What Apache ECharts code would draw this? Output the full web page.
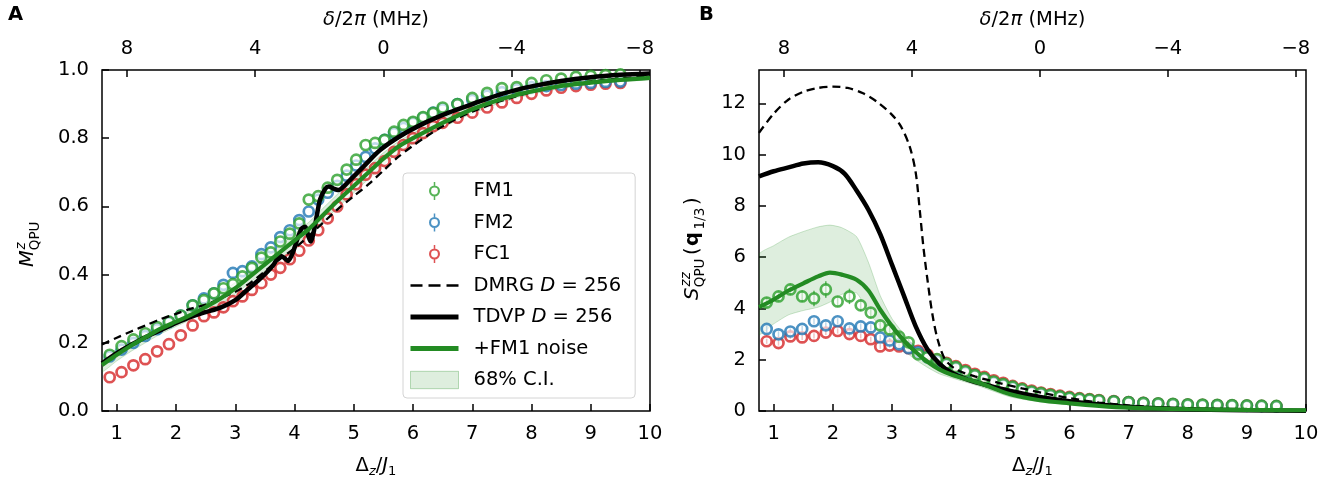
<!DOCTYPE html>
<html><head><meta charset="utf-8">
<script src="https://cdn.jsdelivr.net/npm/echarts@6/dist/echarts.min.js"></script>
<style>html,body{margin:0;padding:0;background:#fff;} #c{width:1338px;height:483px;}</style>
</head><body><div id="c"></div>
<script>
// ---------------- data ----------------
const xTicks = [1,2,3,4,5,6,7,8,9,10];
const deltaTicks = [8,4,0,-4,-8];
const yTicksA = [0,0.2,0.4,0.6,0.8,1.0];
const yTicksB = [0,2,4,6,8,10,12];

// measurement points (Delta_z / J1)
const dz = [0.88,1.08,1.28,1.48,1.68,1.88,2.08,2.28,2.47,2.64,2.8,2.96,3.12,3.28,3.44,3.6,3.76,3.92,4.08,4.24,4.4,4.56,4.72,4.88,5.04,5.2,5.36,5.52,5.68,5.84,6.0,6.17,6.34,6.5,6.75,7.0,7.25,7.5,7.75,8.0,8.25,8.5,8.75,9.0,9.25,9.5];

// Panel A: magnetization
const fm1A = [0.165,0.19,0.21,0.228,0.246,0.262,0.28,0.31,0.325,0.345,0.36,0.372,0.395,0.42,0.45,0.465,0.497,0.52,0.55,0.62,0.63,0.655,0.678,0.708,0.737,0.78,0.786,0.795,0.819,0.839,0.848,0.862,0.874,0.89,0.9,0.918,0.933,0.947,0.95,0.962,0.97,0.975,0.98,0.983,0.985,0.987];
const fm2A = [0.16,0.18,0.2,0.22,0.24,0.26,0.28,0.31,0.33,0.345,0.37,0.405,0.41,0.424,0.46,0.48,0.51,0.53,0.56,0.585,0.62,0.64,0.66,0.69,0.72,0.745,0.77,0.795,0.815,0.83,0.845,0.86,0.875,0.885,0.9,0.912,0.925,0.935,0.943,0.95,0.953,0.956,0.96,0.962,0.965,0.966];
const fc1A = [0.099,0.114,0.134,0.152,0.175,0.196,0.222,0.251,0.278,0.289,0.304,0.322,0.336,0.355,0.375,0.4,0.42,0.445,0.47,0.5,0.53,0.565,0.6,0.635,0.665,0.693,0.712,0.733,0.76,0.78,0.8,0.815,0.835,0.845,0.86,0.875,0.89,0.905,0.918,0.93,0.94,0.948,0.953,0.957,0.96,0.962];

const dmrgA_x = [0.75,1.0,1.25,1.5,1.75,2.0,2.25,2.5,2.75,3.0,3.25,3.5,3.75,4.0,4.25,4.5,4.75,5.0,5.25,5.5,5.75,6.0,6.25,6.5,6.75,7.0,7.5,8.0,8.5,9.0,9.5,10.0];
const dmrgA_y = [0.195,0.215,0.234,0.252,0.27,0.285,0.3,0.312,0.33,0.35,0.375,0.41,0.445,0.477,0.515,0.555,0.595,0.63,0.665,0.705,0.745,0.778,0.808,0.835,0.858,0.878,0.91,0.935,0.953,0.966,0.975,0.982];

const tdvpA_x = [0.75,1.0,1.25,1.5,1.75,2.0,2.25,2.5,2.75,3.0,3.2,3.4,3.55,3.65,3.75,3.82,3.89,3.96,4.05,4.12,4.18,4.23,4.27,4.33,4.43,4.52,4.58,4.66,4.74,4.84,4.94,5.16,5.45,5.8,6.2,6.6,7.0,7.5,8.0,8.5,9.0,9.5,10.0];
const tdvpA_y = [0.14,0.17,0.195,0.218,0.238,0.258,0.276,0.29,0.303,0.325,0.355,0.385,0.41,0.43,0.455,0.45,0.44,0.46,0.505,0.535,0.54,0.515,0.497,0.53,0.62,0.652,0.658,0.652,0.648,0.66,0.678,0.716,0.766,0.808,0.845,0.875,0.9,0.93,0.952,0.968,0.979,0.986,0.99];

const noiseA_x = [0.75,1.0,1.25,1.5,1.75,2.0,2.25,2.5,2.75,3.0,3.25,3.5,3.75,4.0,4.25,4.5,4.75,5.0,5.25,5.5,5.75,6.0,6.5,7.0,7.5,8.0,8.5,9.0,9.5,10.0];
const noiseA_y = [0.135,0.165,0.193,0.218,0.242,0.262,0.282,0.305,0.33,0.36,0.395,0.43,0.465,0.5,0.535,0.578,0.62,0.66,0.7,0.74,0.775,0.8,0.845,0.885,0.915,0.937,0.953,0.963,0.971,0.977];
const ciA_lo = [0.115,0.147,0.176,0.202,0.227,0.248,0.268,0.29,0.314,0.343,0.377,0.411,0.445,0.48,0.515,0.557,0.6,0.64,0.681,0.722,0.758,0.784,0.831,0.873,0.905,0.929,0.946,0.957,0.966,0.972];
const ciA_hi = [0.152,0.182,0.209,0.233,0.256,0.276,0.296,0.32,0.346,0.377,0.413,0.449,0.485,0.52,0.555,0.598,0.64,0.68,0.718,0.757,0.79,0.815,0.858,0.896,0.924,0.945,0.96,0.969,0.976,0.982];

// Panel B: structure factor
const fm1B = [4.23,4.47,4.74,4.47,4.39,4.74,4.27,4.47,4.12,3.84,3.34,3.18,2.9,2.68,2.21,2.1,2.02,1.85,1.71,1.55,1.4,1.28,1.15,1.05,0.95,0.85,0.76,0.7,0.63,0.57,0.52,0.48,0.45,0.42,0.38,0.35,0.32,0.3,0.28,0.26,0.25,0.24,0.23,0.22,0.21,0.2];
const fm1B_err = [0.2,0.2,0.22,0.22,0.3,0.32,0.2,0.3,0.22,0.2,0.18,0.15,0.15,0.12,0.12,0.1,0.1,0.1,0.08,0.08,0.08,0.06,0.06,0.06,0.05,0.05,0.05,0.04,0.04,0.04,0.04,0.03,0.03,0.03,0.03,0.03,0.02,0.02,0.02,0.02,0.02,0.02,0.02,0.02,0.02,0.02];
const fm2B = [3.2,2.99,3.1,3.2,3.5,3.34,3.5,3.22,3.3,3.26,2.87,2.75,2.6,2.45,2.29,2.1,1.95,1.82,1.68,1.52,1.38,1.25,1.12,1.02,0.92,0.82,0.74,0.67,0.6,0.55,0.5,0.46,0.43,0.4,0.37,0.34,0.31,0.28,0.26,0.24,0.23,0.22,0.21,0.2,0.19,0.18];
const fm2B_err = [0.12,0.12,0.12,0.12,0.12,0.12,0.12,0.12,0.12,0.12,0.1,0.1,0.1,0.1,0.1,0.08,0.08,0.08,0.07,0.07,0.06,0.06,0.05,0.05,0.05,0.04,0.04,0.04,0.04,0.03,0.03,0.03,0.03,0.03,0.02,0.02,0.02,0.02,0.02,0.02,0.02,0.02,0.02,0.02,0.02,0.02];
const fc1B = [2.72,2.65,2.91,2.87,2.93,3.06,3.12,3.0,2.93,2.8,2.52,2.55,2.52,2.45,2.35,2.2,2.0,1.88,1.75,1.6,1.45,1.33,1.2,1.1,0.98,0.88,0.8,0.72,0.66,0.6,0.55,0.5,0.46,0.43,0.39,0.35,0.32,0.29,0.27,0.25,0.24,0.23,0.22,0.21,0.2,0.19];
const fc1B_err = [0.1,0.1,0.1,0.1,0.1,0.1,0.1,0.1,0.1,0.1,0.09,0.09,0.09,0.09,0.08,0.08,0.08,0.07,0.07,0.06,0.06,0.06,0.05,0.05,0.05,0.04,0.04,0.04,0.04,0.03,0.03,0.03,0.03,0.03,0.02,0.02,0.02,0.02,0.02,0.02,0.02,0.02,0.02,0.02,0.02,0.02];

const dmrgB_x = [0.75,1.0,1.25,1.5,1.75,2.0,2.25,2.5,2.75,3.0,3.15,3.3,3.4,3.47,3.53,3.6,3.68,3.77,3.9,4.1,4.4,4.8,5.2,5.6,6.0,6.5,7.0,7.5,8.0,9.0,10.0];
const dmrgB_y = [10.85,11.6,12.15,12.45,12.6,12.65,12.6,12.4,12.05,11.55,11.1,10.3,9.3,7.8,6.4,5.1,3.8,2.8,2.0,1.6,1.35,1.1,0.88,0.68,0.5,0.33,0.22,0.14,0.09,0.04,0.02];

const tdvpB_x = [0.75,1.0,1.25,1.5,1.75,2.0,2.2,2.4,2.6,2.8,3.0,3.2,3.4,3.6,3.8,4.0,4.3,4.7,5.0,5.5,6.0,6.5,7.0,8.0,9.0,10.0];
const tdvpB_y = [9.15,9.35,9.5,9.65,9.7,9.55,9.25,8.6,7.85,6.9,5.7,4.5,3.3,2.4,1.85,1.5,1.2,0.95,0.78,0.55,0.38,0.25,0.16,0.07,0.03,0.01];

const noiseB_x = [0.75,1.0,1.25,1.5,1.75,1.95,2.15,2.4,2.6,2.8,3.0,3.2,3.4,3.6,3.8,4.0,4.5,5.0,5.5,6.0,6.5,7.0,8.0,9.0,10.0];
const noiseB_y = [4.05,4.35,4.7,4.98,5.25,5.4,5.32,5.12,4.7,3.95,3.3,2.75,2.3,1.92,1.62,1.42,1.07,0.65,0.42,0.3,0.2,0.13,0.07,0.04,0.03];
const ciB_lo = [3.0,3.4,3.75,3.92,4.05,4.25,4.55,4.6,3.85,3.3,2.68,2.35,2.0,1.7,1.45,1.3,0.95,0.55,0.36,0.26,0.17,0.11,0.05,0.03,0.02];
const ciB_hi = [6.1,6.45,6.78,7.0,7.18,7.25,7.15,6.8,5.8,4.5,3.6,3.0,2.5,2.1,1.8,1.56,1.18,0.75,0.5,0.35,0.24,0.16,0.09,0.05,0.04];

// ---------------- styling ----------------
const FONT = '"DejaVu Sans", sans-serif';
const FS = 19.5;
const C_G = 'rgba(44,160,44,0.8)', C_B = 'rgba(31,119,180,0.8)', C_R = 'rgba(214,39,40,0.8)';
const C_LINE_G = '#238b23';
const pairs = (xs, ys) => xs.map((x, i) => [x, ys[i]]);

function bandSeries(name, xi, yi, xs, lo, hi) {
  return {
    type: 'custom', name: name, xAxisIndex: xi, yAxisIndex: yi, clip: true, silent: true, z: 1,
    data: [[xs[0], lo[0]]],
    renderItem: function (params, api) {
      const pts = [];
      for (let i = 0; i < xs.length; i++) pts.push(api.coord([xs[i], hi[i]]));
      for (let i = xs.length - 1; i >= 0; i--) pts.push(api.coord([xs[i], lo[i]]));
      return { type: 'polygon', shape: { points: pts, smooth: 0.2 },
        style: { fill: 'rgba(34,139,34,0.15)', stroke: 'rgba(34,139,34,0.22)', lineWidth: 1 } };
    }
  };
}
function scatterSeries(name, xi, yi, ys, color) {
  return { type: 'scatter', name: name, xAxisIndex: xi, yAxisIndex: yi, symbol: 'circle', symbolSize: 10,
    itemStyle: { color: 'rgba(255,255,255,0.65)', borderColor: color, borderWidth: 2.7, opacity: 1 },
    data: pairs(dz, ys), z: 2 };
}
function errSeries(xi, yi, ys, es, color) {
  return { type: 'custom', name: 'err', xAxisIndex: xi, yAxisIndex: yi, silent: true, z: 2,
    data: dz.map((x, i) => [x, ys[i], es[i]]), encode: { x: 0, y: 1 },
    renderItem: function (params, api) {
      const x = api.value(0), y = api.value(1), e = api.value(2);
      const p1 = api.coord([x, y - e]), p2 = api.coord([x, y + e]);
      return { type: 'line', shape: { x1: p1[0], y1: p1[1], x2: p2[0], y2: p2[1] },
        style: { stroke: color, lineWidth: 1.5 } };
    } };
}
function lineSeries(name, xi, yi, xs, ys, color, width, dashed) {
  return { type: 'line', name: name, xAxisIndex: xi, yAxisIndex: yi, showSymbol: false, symbol: 'none',
    smooth: 0.3, clip: true, z: 3,
    lineStyle: { color: color, width: width, type: dashed ? [8, 5] : 'solid', cap: 'butt' },
    itemStyle: { color: color },
    data: pairs(xs, ys) };
}

const tickLab = { fontSize: FS, fontFamily: FONT, color: '#000' };
const tickSty = { inside: true, length: 7, lineStyle: { color: '#000', width: 1.5 } };
const noLine = { show: false, onZero: false };
const nameRich = {
  n: { fontSize: FS, fontFamily: FONT, color: '#000', lineHeight: 25 },
  i: { fontSize: FS, fontFamily: FONT, fontStyle: 'italic', color: '#000', lineHeight: 25 },
  sz: { fontSize: 13, fontFamily: FONT, fontStyle: 'italic', color: '#000', lineHeight: 25, verticalAlign: 'bottom' },
  s1: { fontSize: 13, fontFamily: FONT, color: '#000', lineHeight: 25, verticalAlign: 'bottom' }
};
function bottomAxis(g) {
  return { gridIndex: g, type: 'value', position: 'bottom', min: 0.75, max: 10,
    axisLine: noLine, splitLine: { show: false },
    axisTick: Object.assign({ customValues: xTicks }, tickSty),
    axisLabel: Object.assign({ customValues: xTicks, margin: 13 }, tickLab),
    name: '{n|Δ}{sz|z}{n|/}{i|J}{s1|1}', nameLocation: 'middle', nameGap: 42,
    nameTextStyle: { rich: nameRich, fontSize: FS, fontFamily: FONT, color: '#000', lineHeight: 25 } };
}
function topAxis(g) {
  return { gridIndex: g, type: 'value', position: 'top', min: -8.316, max: 8.778, inverse: true,
    axisLine: noLine, splitLine: { show: false },
    axisTick: Object.assign({ customValues: deltaTicks }, tickSty),
    axisLabel: Object.assign({ customValues: deltaTicks, margin: 11,
      formatter: v => (v < 0 ? '\u2212' + Math.abs(v) : String(v)) }, tickLab),
    name: '{i|δ}{n|/2}{i|π}{n| (MHz)}', nameLocation: 'middle', nameGap: 38,
    nameTextStyle: { rich: nameRich, fontSize: FS, fontFamily: FONT, color: '#000', lineHeight: 25 } };
}

const RING = 'path://M5.25,0H6.75V3.6H5.25Z M5.25,14.4H6.75V18H5.25Z M0.5,9A5.5,5.5,0,1,1,11.5,9A5.5,5.5,0,1,1,0.5,9Z M2.6,9A3.4,3.4,0,1,0,9.4,9A3.4,3.4,0,1,0,2.6,9Z';
const DASH = 'path://M0,0H12V2.4H0Z M18,0H30V2.4H18Z M36,0H48V2.4H36Z';
const THICK = 'path://M0,0H48V4.8H0Z';
const RECT = 'path://M0,0H47V17H0Z';

function yName(x0, y0, parts) {
  return { type: 'group', x: x0, y: y0, rotation: Math.PI / 2, silent: true,
    children: parts.map(p => ({ type: 'text', x: p[1], y: p[2],
      style: { text: p[0], font: p[3], fill: '#000', textAlign: 'left', textVerticalAlign: 'middle' } })) };
}
const fMain = FS + 'px "DejaVu Sans"';
const fIt = 'italic ' + FS + 'px "DejaVu Sans"';
const fBold = 'bold ' + FS + 'px "DejaVu Sans"';
const fSub = '13.5px "DejaVu Sans"';
const fSubIt = 'italic 13.5px "DejaVu Sans"';

const option = {
  animation: false,
  backgroundColor: '#fff',
  textStyle: { fontFamily: FONT },
  title: [
    { text: 'A', left: 8, top: 5, padding: 0, textStyle: { fontSize: FS, fontWeight: 'bold', fontFamily: FONT, color: '#000' } },
    { text: 'B', left: 699, top: 5, padding: 0, textStyle: { fontSize: FS, fontWeight: 'bold', fontFamily: FONT, color: '#000' } }
  ],
  grid: [
    { left: 102, top: 70, width: 548, height: 342, show: true, borderColor: '#000', borderWidth: 1.5, backgroundColor: 'transparent' },
    { left: 759, top: 70, width: 547, height: 342, show: true, borderColor: '#000', borderWidth: 1.5, backgroundColor: 'transparent' }
  ],
  xAxis: [bottomAxis(0), topAxis(0), bottomAxis(1), topAxis(1)],
  yAxis: [
    { gridIndex: 0, type: 'value', position: 'left', min: 0, max: 1, axisLine: noLine, splitLine: { show: false },
      axisTick: Object.assign({ customValues: yTicksA }, tickSty),
      axisLabel: Object.assign({ customValues: yTicksA, margin: 13, formatter: v => v.toFixed(1) }, tickLab) },
    { gridIndex: 1, type: 'value', position: 'left', min: 0, max: 13.3, axisLine: noLine, splitLine: { show: false },
      axisTick: Object.assign({ customValues: yTicksB }, tickSty),
      axisLabel: Object.assign({ customValues: yTicksB, margin: 13 }, tickLab) }
  ],
  legend: {
    orient: 'vertical', left: 403, top: 173, padding: [7, 14, 7, 7], itemWidth: 48, itemHeight: 18, itemGap: 9.5,
    backgroundColor: 'rgba(255,255,255,0.8)', borderColor: '#d4d4d4', borderWidth: 1, borderRadius: 4,
    selectedMode: false,
    textStyle: { fontSize: FS, fontFamily: FONT, color: '#000', lineHeight: 22, padding: [0, 0, 0, 10],
      rich: { n: { fontSize: FS, fontFamily: FONT, color: '#000', lineHeight: 22 },
              i: { fontSize: FS, fontFamily: FONT, fontStyle: 'italic', color: '#000', lineHeight: 22 } } },
    formatter: function (name) {
      if (name === 'DMRG D = 256') return '{n|DMRG }{i|D}{n| = 256}';
      if (name === 'TDVP D = 256') return '{n|TDVP }{i|D}{n| = 256}';
      return name;
    },
    data: [
      { name: 'FM1', icon: RING, itemStyle: { color: C_G, borderWidth: 0 } },
      { name: 'FM2', icon: RING, itemStyle: { color: C_B, borderWidth: 0 } },
      { name: 'FC1', icon: RING, itemStyle: { color: C_R, borderWidth: 0 } },
      { name: 'DMRG D = 256', icon: DASH, itemStyle: { color: '#000', borderWidth: 0 } },
      { name: 'TDVP D = 256', icon: THICK, itemStyle: { color: '#000', borderWidth: 0 } },
      { name: '+FM1 noise', icon: THICK, itemStyle: { color: C_LINE_G, borderWidth: 0 } },
      { name: '68% C.I.', icon: RECT, itemStyle: { color: 'rgba(34,139,34,0.15)', borderColor: 'rgba(34,139,34,0.3)', borderWidth: 1 } }
    ]
  },
  graphic: [
    yName(34, 267, [['M', 0, -5.8, fIt], ['z', 17.5, -12.9, fSubIt], ['QPU', 16.8, 1.6, fSub]]),
    yName(699, 300, [['S', 0, -5.8, fIt], ['zz', 13.6, -12.9, fSubIt], ['QPU', 12.8, 1.8, fSub],
                     ['(', 45, -5.8, fMain], ['q', 54, -5.8, fBold], ['1/3', 70.5, 1.8, fSub], [')', 95, -5.8, fMain]])
  ],
  series: [
    // Panel A
    bandSeries('68% C.I.', 0, 0, noiseA_x, ciA_lo, ciA_hi),
    scatterSeries('FC1', 0, 0, fc1A, C_R),
    scatterSeries('FM2', 0, 0, fm2A, C_B),
    scatterSeries('FM1', 0, 0, fm1A, C_G),
    lineSeries('DMRG D = 256', 0, 0, dmrgA_x, dmrgA_y, '#000', 2.3, true),
    lineSeries('TDVP D = 256', 0, 0, tdvpA_x, tdvpA_y, '#000', 4.5, false),
    lineSeries('+FM1 noise', 0, 0, noiseA_x, noiseA_y, C_LINE_G, 4.2, false),
    // Panel B
    bandSeries('68% C.I.', 2, 1, noiseB_x, ciB_lo, ciB_hi),
    errSeries(2, 1, fc1B, fc1B_err, C_R),
    scatterSeries('FC1', 2, 1, fc1B, C_R),
    errSeries(2, 1, fm2B, fm2B_err, C_B),
    scatterSeries('FM2', 2, 1, fm2B, C_B),
    errSeries(2, 1, fm1B, fm1B_err, C_G),
    scatterSeries('FM1', 2, 1, fm1B, C_G),
    lineSeries('DMRG D = 256', 2, 1, dmrgB_x, dmrgB_y, '#000', 2.3, true),
    lineSeries('TDVP D = 256', 2, 1, tdvpB_x, tdvpB_y, '#000', 4.5, false),
    lineSeries('+FM1 noise', 2, 1, noiseB_x, noiseB_y, C_LINE_G, 4.2, false)
  ]
};
const chart = echarts.init(document.getElementById('c'), null, { renderer: 'canvas' });
chart.setOption(option);
</script></body></html>
